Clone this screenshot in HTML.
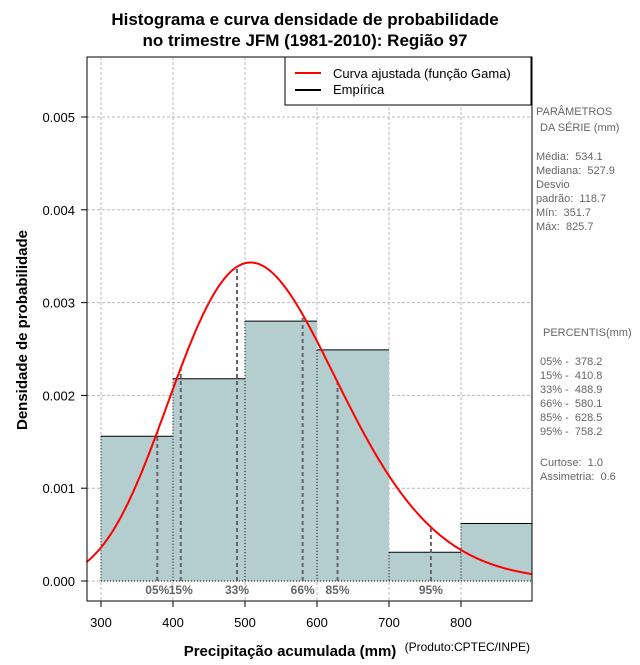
<!DOCTYPE html>
<html><head><meta charset="utf-8"><style>
body{margin:0;background:#fff;font-family:"Liberation Sans",sans-serif}
svg text{font-family:"Liberation Sans",sans-serif;white-space:pre}
</style></head><body>
<svg id="c" width="640" height="660" xmlns="http://www.w3.org/2000/svg">
<text x="305" y="25" text-anchor="middle" font-size="17" font-weight="bold">Histograma e curva densidade de probabilidade</text>
<text x="305" y="46" text-anchor="middle" font-size="17" font-weight="bold">no trimestre JFM (1981-2010): Região 97</text>
<g id="grid"></g><g id="bars"></g><g id="pct"></g><g id="curve"></g><g id="axes"></g>
<text x="290" y="656" text-anchor="middle" font-size="15" font-weight="bold">Precipitação acumulada (mm)</text>
<text x="530" y="651" text-anchor="end" font-size="12">(Produto:CPTEC/INPE)</text>
<text transform="translate(27,330) rotate(-90)" text-anchor="middle" font-size="15" font-weight="bold">Densidade de probabilidade</text>
<g>
<rect x="285" y="57" width="246" height="48" fill="#fff" stroke="#000"/>
<line x1="295" y1="73" x2="321" y2="73" stroke="red" stroke-width="2"/>
<text x="333" y="78" font-size="13">Curva ajustada (função Gama)</text>
<line x1="295" y1="90" x2="321" y2="90" stroke="#000" stroke-width="2"/>
<text x="333" y="94" font-size="13">Empírica</text>
</g>
<g font-size="11" fill="#666">
<text x="536" y="115">PARÂMETROS</text><text x="540" y="131">DA SÉRIE (mm)</text>
<text x="536" y="160">Média:  534.1</text><text x="536" y="174">Mediana:  527.9</text>
<text x="536" y="188">Desvio</text><text x="536" y="202">padrão:  118.7</text>
<text x="536" y="216">Mín:  351.7</text><text x="536" y="230">Máx:  825.7</text>
<text x="543" y="336">PERCENTIS(mm)</text>
<text x="540" y="365">05% -  378.2</text><text x="540" y="379">15% -  410.8</text>
<text x="540" y="393">33% -  488.9</text><text x="540" y="407">66% -  580.1</text>
<text x="540" y="421">85% -  628.5</text><text x="540" y="435">95% -  758.2</text>
<text x="540" y="466">Curtose:  1.0</text><text x="540" y="480">Assimetria:  0.6</text>
</g>
</svg>
<script>
const binStarts=[300,400,500,600,700,800];
const binDensity=[0.00156,0.00218,0.00280,0.00249,0.00031,0.00062];
const gammaMean=534.1, gammaSd=118.7;
const pctLabels=['05%','15%','33%','66%','85%','95%'];
const pctValues=[378.2,410.8,488.9,580.1,628.5,758.2];
const xTicks=[300,400,500,600,700,800];
const yTicks=[0,0.001,0.002,0.003,0.004,0.005];
const L=87,R=532,T=57,B=601;
const X=v=>101+(v-300)*0.72, Y=v=>581-v*92800;
const NS='http://www.w3.org/2000/svg';
function mk(p,t,a){const e=document.createElementNS(NS,t);for(const k in a)e.setAttribute(k,a[k]);p.appendChild(e);return e;}
function lgamma(z){const g=7,c=[0.99999999999980993,676.5203681218851,-1259.1392167224028,771.32342877765313,-176.61502916214059,12.507343278686905,-0.13857109526572012,9.9843695780195716e-6,1.5056327351493116e-7];z-=1;let x=c[0];for(let i=1;i<9;i++)x+=c[i]/(z+i);const t=z+g+0.5;return 0.5*Math.log(2*Math.PI)+(z+0.5)*Math.log(t)-t+Math.log(x);}
const k=(gammaMean/gammaSd)**2, th=gammaSd*gammaSd/gammaMean;
const dens=x=>Math.exp((k-1)*Math.log(x)-x/th-lgamma(k)-k*Math.log(th));
const grid=document.getElementById('grid'),bars=document.getElementById('bars'),pct=document.getElementById('pct'),cur=document.getElementById('curve'),ax=document.getElementById('axes');
xTicks.forEach(v=>{const e=mk(grid,'line',{x1:X(v),x2:X(v),y1:T,y2:B,stroke:'#bbb','stroke-dasharray':'3,2'});

});
yTicks.forEach(v=>{const e=mk(grid,'line',{x1:L,x2:R,y1:Y(v),y2:Y(v),stroke:'#bbb','stroke-dasharray':'3,2'});

});
binStarts.forEach((s,i)=>{const x0=X(s),x1=Math.min(X(s+100),R),y=Y(binDensity[i]);
const r=mk(bars,'rect',{x:x0,y:y,width:x1-x0,height:Y(0)-y,fill:'#b4cecf'});


mk(bars,'line',{x1:x0,x2:x1,y1:y,y2:y,stroke:'#000'});
mk(bars,'line',{x1:x0,x2:x0,y1:y,y2:Y(0),stroke:'#000','stroke-dasharray':'1,2'});
});
mk(bars,'line',{x1:X(300),x2:R,y1:Y(0),y2:Y(0),stroke:'#000','stroke-dasharray':'1,2'});
pctValues.forEach((v,i)=>{const l=mk(pct,'line',{x1:X(v),x2:X(v),y1:Y(0),y2:Y(dens(v)),stroke:'#666','stroke-width':2,'stroke-dasharray':'4,3'});


const t=mk(pct,'text',{x:X(v),y:594,'text-anchor':'middle','font-size':12,'font-weight':'bold',fill:'#666'});t.textContent=pctLabels[i];

});
let d='';for(let x=280;x<=899;x+=2)d+=(d?'L':'M')+X(x).toFixed(1)+','+Y(dens(x)).toFixed(1);
const p=mk(cur,'path',{d:d,fill:'none',stroke:'red','stroke-width':2});


mk(ax,'rect',{x:L,y:T,width:R-L,height:B-T,fill:'none',stroke:'#000'});
xTicks.forEach(v=>{mk(ax,'line',{x1:X(v),x2:X(v),y1:B,y2:B+6,stroke:'#000'});const t=mk(ax,'text',{x:X(v),y:627,'text-anchor':'middle','font-size':13});t.textContent=v;

});
yTicks.forEach(v=>{mk(ax,'line',{x1:L-6,x2:L,y1:Y(v),y2:Y(v),stroke:'#000'});const t=mk(ax,'text',{x:L-12,y:Y(v)+5,'text-anchor':'end','font-size':13});t.textContent=v.toFixed(3);

});
</script>
</body></html>
